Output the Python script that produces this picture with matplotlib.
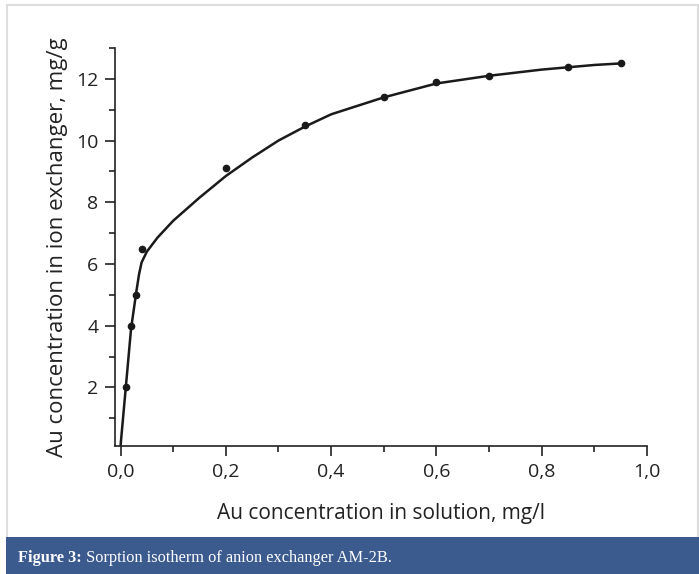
import matplotlib
matplotlib.use("Agg")
import matplotlib.pyplot as plt
from matplotlib.patches import Rectangle
from matplotlib.ticker import MultipleLocator, FuncFormatter

# measured data points
x_pts = [0.01, 0.02, 0.03, 0.04, 0.2, 0.35, 0.5, 0.6, 0.7, 0.85, 0.95]
y_pts = [2.0, 4.0, 5.0, 6.5, 9.1, 10.5, 11.4, 11.9, 12.1, 12.4, 12.5]

# fitted isotherm curve
curve_x = [0.0, 0.01, 0.02, 0.03, 0.035, 0.04, 0.05, 0.07, 0.1, 0.15, 0.2,
           0.25, 0.3, 0.35, 0.4, 0.5, 0.6, 0.7, 0.8, 0.9, 0.95]
curve_y = [0.1, 2.0, 3.9, 5.1, 5.65, 6.05, 6.4, 6.85, 7.4, 8.15, 8.85,
           9.45, 10.0, 10.45, 10.85, 11.4, 11.85, 12.1, 12.3, 12.45, 12.5]

xticks = [0.0, 0.2, 0.4, 0.6, 0.8, 1.0]
yticks = [2, 4, 6, 8, 10, 12]
xlabel = "Au concentration in solution, mg/l"
ylabel = "Au concentration in ion exchanger, mg/g"
caption_bold = "Figure 3:"
caption_rest = " Sorption isotherm of anion exchanger AM-2B."

W, H = 699, 574
fig = plt.figure(figsize=(W / 100, H / 100), dpi=100)
plt.rcParams['font.family'] = ['Open Sans', 'DejaVu Sans']

# outer light frame
fig.patches.append(Rectangle((7 / W, 36 / H), (W - 8) / W, (H - 41) / H,
                             transform=fig.transFigure, fill=False,
                             edgecolor="#dddddd", linewidth=1.5))
# caption bar
fig.patches.append(Rectangle((6 / W, 0), (W - 6) / W, 37 / H,
                             transform=fig.transFigure, facecolor="#3b5a8e",
                             edgecolor="none"))
cap_font = dict(family=["Liberation Serif", "DejaVu Serif"])
t1 = fig.text(18 / W, 16 / H, caption_bold, color="white", fontsize=11.8,
              fontweight="bold", va="center", ha="left", **cap_font)
fig.canvas.draw()
bb = t1.get_window_extent()
fig.text(bb.x1 / W, 16 / H, caption_rest, color="white", fontsize=11.8,
         va="center", ha="left", **cap_font)

ax = fig.add_axes([115 / W, 1 - 446 / H, (647 - 115) / W, (446 - 48) / H])
ax.plot(curve_x, curve_y, color="#1a1a1a", linewidth=1.8, zorder=2)
ax.plot(x_pts, y_pts, 'o', color="#1a1a1a", markersize=4.5, zorder=3)

ax.set_xlim(-0.0105, 1.0)
ax.set_ylim(0.1, 13.0)
ax.spines['top'].set_visible(False)
ax.spines['right'].set_visible(False)
for s in ('left', 'bottom'):
    ax.spines[s].set_linewidth(1.2)
    ax.spines[s].set_color("#222222")

ax.set_xticks(xticks)
ax.set_yticks(yticks)
ax.xaxis.set_minor_locator(MultipleLocator(0.1))
ax.yaxis.set_minor_locator(MultipleLocator(1))
ax.xaxis.set_major_formatter(FuncFormatter(lambda v, p: f"{v:.1f}".replace(".", ",")))
ax.tick_params(which='major', direction='out', length=7, width=1.2,
               labelsize=14, colors="#222222", pad=5)
ax.tick_params(which='minor', direction='out', length=4, width=1.2,
               colors="#222222")

ax.set_xlabel(xlabel, fontsize=15, color="#222222", labelpad=16)
ax.set_ylabel(ylabel, fontsize=16, color="#222222", labelpad=6)

fig.savefig("out.png", dpi=100)
